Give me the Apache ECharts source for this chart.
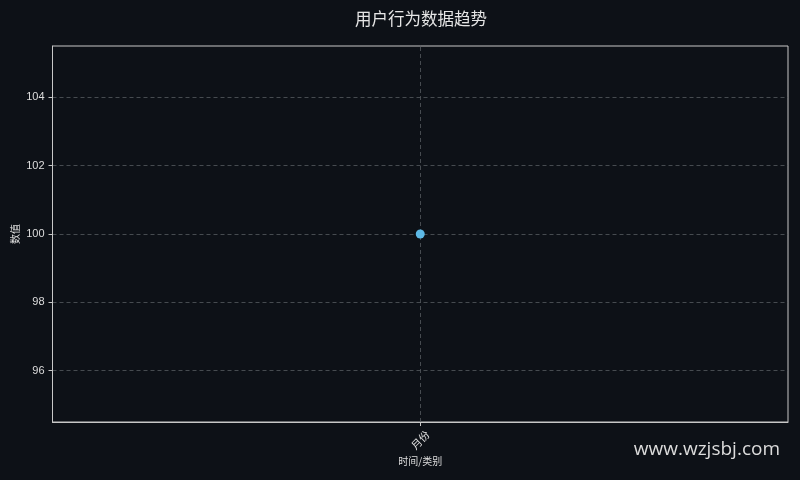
<!DOCTYPE html>
<html><head><meta charset="utf-8">
<script src="https://cdn.jsdelivr.net/npm/echarts@6/dist/echarts.min.js"></script>
<style>html,body{margin:0;padding:0;background:#0d1117;}#c{width:800px;height:480px;}</style>
</head><body><div id="c"></div>
<script>
const categories = ['月份'];
const values = [100];
const yTicks = [96, 98, 100, 102, 104];
const yMin = 94.5, yMax = 105.5;

const chart = echarts.init(document.getElementById('c'));
const font = '"Liberation Sans",Arial,sans-serif';
const cjk = '"Noto Sans CJK SC",sans-serif';
const gridLine = { color: '#555a60', type: [4, 3], width: 0.8 };
chart.setOption({
  backgroundColor: '#0d1117',
  animation: false,
  title: {
    text: '用户行为数据趋势', left: 416, textAlign: 'center', top: 5,
    textStyle: { color: '#e6e6e6', fontSize: 16.5, fontWeight: 'normal', fontFamily: cjk }
  },
  grid: { left: 52.5, right: 12, top: 46, bottom: 58, outerBoundsMode: 'none', containLabel: false,
    show: true, borderColor: '#c8c8c8', borderWidth: 1, backgroundColor: 'transparent' },
  xAxis: {
    type: 'category', data: categories, boundaryGap: true,
    name: '时间/类别', nameLocation: 'middle', nameGap: 34, nameMoveOverlap: false,
    nameTextStyle: { color: '#dddddd', fontSize: 10, fontFamily: cjk },
    axisLine: { lineStyle: { color: '#c8c8c8' } },
    axisTick: { show: true, alignWithLabel: true, interval: 0, length: 4, lineStyle: { color: '#c8c8c8' } },
    axisLabel: { rotate: 45, align: 'center', verticalAlign: 'middle', color: '#dddddd', fontSize: 10.5, margin: 18, fontFamily: cjk },
    splitLine: { show: false }
  },
  yAxis: {
    type: 'value', min: yMin, max: yMax,
    name: '数值', nameLocation: 'middle', nameGap: 32, nameRotate: 90, nameMoveOverlap: false,
    nameTextStyle: { color: '#dddddd', fontSize: 10, fontFamily: cjk },
    axisLine: { show: true, lineStyle: { color: '#c8c8c8' } },
    axisTick: { show: true, length: 4, lineStyle: { color: '#c8c8c8' }, customValues: yTicks },
    axisLabel: { color: '#dddddd', fontSize: 11, margin: 8, fontFamily: font, customValues: yTicks },
    splitLine: { show: true, lineStyle: gridLine }
  },
  graphic: [{
    type: 'text', right: 20, bottom: 21,
    style: { text: 'www.wzjsbj.com', fill: '#dcdcdc', fontSize: 19, fontFamily: '"Open Sans",sans-serif' }
  }],
  series: [{
    type: 'line', data: values, symbol: 'circle', symbolSize: 9, z: 5,
    itemStyle: { color: '#5db9e6' }, lineStyle: { color: '#5db9e6', width: 2 },
    markLine: {
      silent: true, symbol: 'none', label: { show: false }, z: 1,
      lineStyle: gridLine,
      data: [{ xAxis: categories[0] }]
    }
  }]
});
</script></body></html>
